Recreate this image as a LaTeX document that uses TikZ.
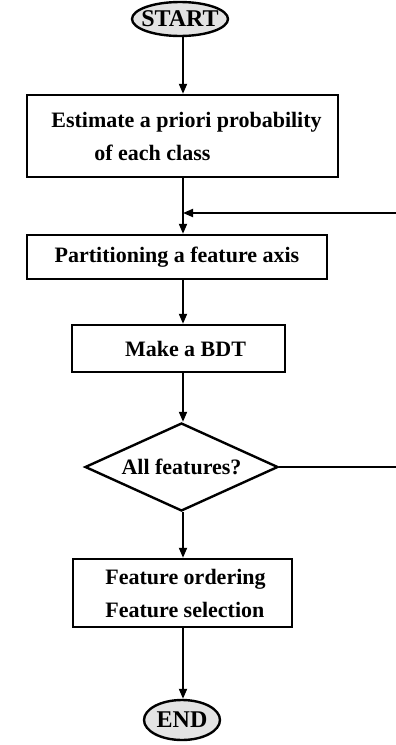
\documentclass[tikz,border=0pt]{standalone}
\usepackage{fontspec}
\setmainfont{Liberation Serif}
\usetikzlibrary{arrows.meta,shapes.geometric}
\begin{document}
\begin{tikzpicture}[x=1pt,y=-1pt,
  txt/.style={font=\bfseries\fontsize{22}{33}\selectfont},
  box/.style={draw,line width=2.4pt,inner sep=0pt,txt},
  term/.style={draw,ellipse,line width=2.4pt,fill=gray!22,inner sep=0pt},
  termtxt/.style={font=\bfseries\fontsize{24}{28}\selectfont},
  dec/.style={draw,diamond,line width=2.4pt,inner sep=0pt,aspect=2.19,txt},
  arr/.style={line width=1.8pt,-{Triangle[length=10pt,width=8pt]}},
  ln/.style={line width=1.8pt}]
\useasboundingbox (0,0) rectangle (396,745);
\coordinate (ax) at (183,0);
\node[term,minimum width=96pt,minimum height=34pt,
  label={[termtxt]center:START}] (start) at (180,19) {};
\node[box,minimum width=311pt,minimum height=82pt,align=left] (b1) at (182.5,136)
  {\hspace*{8pt}Estimate a priori probability\\\hspace*{51pt}of each class};
\node[box,minimum width=300pt,minimum height=44pt] (b2) at (177,257)
  {Partitioning a feature axis};
\node[box,minimum width=213pt,minimum height=47pt] (b3) at (178.5,348.5)
  {\hspace*{14pt}Make a BDT};
\node[dec,minimum width=193pt,minimum height=88pt] (dia) at (181.5,467)
  {All features?};
\node[box,minimum width=219pt,minimum height=68pt,align=left] (b4) at (182.5,593)
  {\hspace*{6pt}Feature ordering\\\hspace*{6pt}Feature selection};
\node[term,minimum width=76pt,minimum height=40pt,
  label={[termtxt]center:END}] (end) at (182,720) {};
\coordinate (re1) at (396,467);
\coordinate (re2) at (396,213);
\draw[arr] (start.south -| ax) -- (b1.north -| ax);
\draw[arr] (b1.south -| ax) -- (b2.north -| ax);
\draw[arr] (b2.south -| ax) -- (b3.north -| ax);
\draw[arr] (b3.south -| ax) -- (dia.north -| ax);
\draw[arr] (dia.south -| ax) -- (b4.north -| ax);
\draw[arr] (b4.south -| ax) -- (end.north -| ax);
\draw[ln] (dia.east) -- (re1);
\draw[arr] (re2) -- (re2 -| ax);
\end{tikzpicture}
\end{document}
